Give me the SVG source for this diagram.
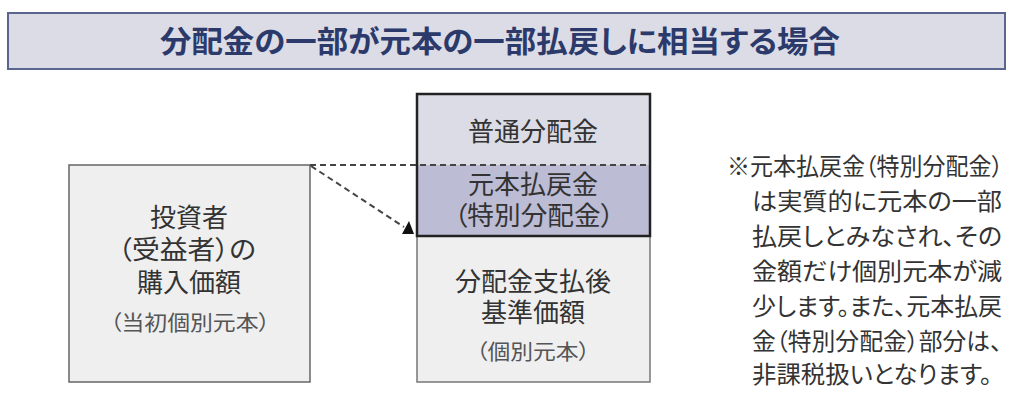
<svg xmlns="http://www.w3.org/2000/svg" width="1024" height="409" viewBox="0 0 1024 409">
<style>
.jp{font-family:"Noto Sans CJK JP","Noto Sans CJK SC",sans-serif;fill:#333;font-feature-settings:"palt";}
.t26{font-size:26px;text-anchor:middle;}
.t22{font-size:21px;text-anchor:middle;fill:#555;}
.note{font-size:24px;}
.dash{stroke:#444;stroke-width:2;stroke-dasharray:6 4;fill:none;}
</style>
<rect width="1024" height="409" fill="#ffffff"/>
<g id="title">
<rect x="8" y="13" width="997" height="56" fill="#dcdce6" stroke="#5b6690" stroke-width="2"/>
<text x="500" y="52" class="jp" style="font-size:30px;font-weight:bold;fill:#2b3a6b;text-anchor:middle" textLength="680" lengthAdjust="spacingAndGlyphs">分配金の一部が元本の一部払戻しに相当する場合</text>
</g>
<g id="left-box">
<rect x="69" y="165" width="241" height="217" fill="#efefef" stroke="#666" stroke-width="1.5"/>
<text x="189" y="227" class="jp t26">投資者</text>
<text x="187" y="259" class="jp t26" textLength="138" lengthAdjust="spacingAndGlyphs">（受益者）の</text>
<text x="189" y="292" class="jp t26">購入価額</text>
<text x="190" y="330" class="jp t22" textLength="160" lengthAdjust="spacingAndGlyphs">（当初個別元本）</text>
</g>
<g id="right-box">
<rect x="417" y="236" width="233" height="146" fill="#efefef" stroke="#777" stroke-width="1.5"/>
<rect x="417" y="94" width="233" height="71" fill="#dcdce6"/>
<rect x="417" y="165" width="233" height="71" fill="#bcbcd4"/>
<rect x="417" y="94" width="233" height="142" fill="none" stroke="#222" stroke-width="2.5"/>
<text x="533" y="141" class="jp t26">普通分配金</text>
<text x="533" y="194" class="jp t26">元本払戻金</text>
<text x="534" y="225" class="jp t26" textLength="160" lengthAdjust="spacingAndGlyphs">（特別分配金）</text>
<text x="533" y="291" class="jp t26">分配金支払後</text>
<text x="533" y="322" class="jp t26">基準価額</text>
<text x="533" y="359" class="jp t22" textLength="114" lengthAdjust="spacingAndGlyphs">（個別元本）</text>
</g>
<g id="connectors">
<line x1="310" y1="165" x2="650" y2="165" class="dash"/>
<line x1="311" y1="166" x2="404" y2="227" class="dash"/>
<polygon points="402,234 414,234 409,221" fill="#111"/>
</g>
<g id="note">
<text x="727" y="175" class="jp note" textLength="276" lengthAdjust="spacingAndGlyphs">※元本払戻金（特別分配金）</text>
<text x="752" y="210" class="jp note" textLength="250" lengthAdjust="spacingAndGlyphs">は実質的に元本の一部</text>
<text x="752" y="245" class="jp note" textLength="250" lengthAdjust="spacingAndGlyphs">払戻しとみなされ、その</text>
<text x="752" y="280" class="jp note" textLength="250" lengthAdjust="spacingAndGlyphs">金額だけ個別元本が減</text>
<text x="752" y="315" class="jp note" textLength="250" lengthAdjust="spacingAndGlyphs">少します。また、元本払戻</text>
<text x="752" y="350" class="jp note" textLength="250" lengthAdjust="spacingAndGlyphs">金（特別分配金）部分は、</text>
<text x="752" y="383" class="jp note" textLength="240" lengthAdjust="spacingAndGlyphs">非課税扱いとなります。</text>
</g>
</svg>
